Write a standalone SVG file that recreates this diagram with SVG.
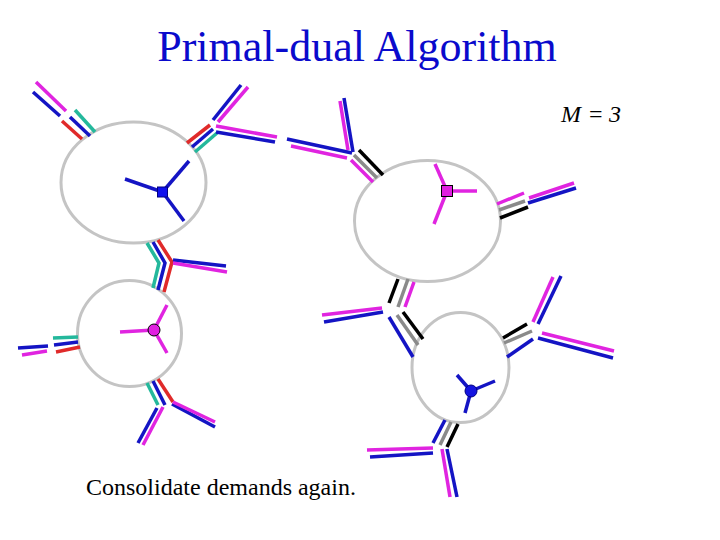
<svg xmlns="http://www.w3.org/2000/svg" width="720" height="540" viewBox="0 0 720 540">
<style>
line, polyline { stroke-width: 3.5; fill: none; }
.b { stroke: #1414c4; }
.m { stroke: #e024e0; }
.r { stroke: #e02a2a; }
.t { stroke: #24b89c; }
.k { stroke: #000000; }
.g { stroke: #8a8a8a; }
.cl { fill: none; stroke: #c4c4c4; stroke-width: 3; }
.title { font-family: "Liberation Serif", "Times New Roman", serif; font-size: 44px; fill: #0a0acc; }
.txt { font-family: "Liberation Serif", "Times New Roman", serif; font-size: 24px; fill: #000; }
</style>
<rect width="720" height="540" fill="#ffffff"/>
<text class="title" x="357" y="61" text-anchor="middle">Primal-dual Algorithm</text>
<text class="txt" x="561" y="122" font-size="22"><tspan font-style="italic">M</tspan><tspan x="589" font-size="24">=</tspan><tspan x="609" font-style="italic">3</tspan></text>
<text class="txt" x="86" y="495">Consolidate demands again.</text>

<g id="node1">
<ellipse class="cl" cx="133.5" cy="182.5" rx="72.5" ry="60.5"/>
<line class="b" x1="162.5" y1="192" x2="125" y2="179"/>
<line class="b" x1="162.5" y1="192" x2="189" y2="161"/>
<line class="b" x1="162.5" y1="192" x2="184" y2="221"/>
<rect x="157.5" y="187" width="10" height="10" fill="#1010ee" stroke="#000080" stroke-width="1"/>
</g>
<g id="node2">
<ellipse class="cl" cx="427.5" cy="221" rx="73" ry="60.5"/>
<line class="m" x1="447" y1="191" x2="435" y2="164"/>
<line class="m" x1="447" y1="191" x2="477" y2="191"/>
<line class="m" x1="447" y1="191" x2="434" y2="224"/>
<rect x="441.5" y="185.5" width="11" height="11" fill="#e020e0" stroke="#000" stroke-width="1"/>
</g>
<g id="node3">
<ellipse class="cl" cx="129.5" cy="333.5" rx="52" ry="53"/>
<line class="m" x1="154" y1="330" x2="120" y2="332"/>
<line class="m" x1="154" y1="330" x2="167" y2="305"/>
<line class="m" x1="154" y1="330" x2="167" y2="353"/>
<circle cx="154" cy="330" r="6" fill="#e020e0" stroke="#000" stroke-width="1"/>
</g>
<g id="node4">
<ellipse class="cl" cx="460.5" cy="367.5" rx="48.5" ry="55"/>
<line class="b" x1="471" y1="391" x2="457" y2="375"/>
<line class="b" x1="471" y1="391" x2="495" y2="381"/>
<line class="b" x1="471" y1="391" x2="465" y2="413"/>
<circle cx="471" cy="391" r="6" fill="#1414e0" stroke="#000080" stroke-width="1"/>
</g>

<g id="connectors">
<!-- A -->
<line class="m" x1="36" y1="82" x2="66" y2="111"/>
<line class="b" x1="33" y1="92" x2="60" y2="116"/>
<line class="r" x1="62" y1="121" x2="82" y2="139"/>
<line class="b" x1="70" y1="117" x2="90" y2="136"/>
<line class="t" x1="75" y1="110" x2="95" y2="132"/>
<!-- B -->
<line class="b" x1="241" y1="85" x2="213" y2="120"/>
<line class="m" x1="248" y1="87" x2="218" y2="122"/>
<line class="r" x1="210" y1="125" x2="187" y2="143"/>
<line class="b" x1="213" y1="129" x2="192" y2="147"/>
<line class="t" x1="217" y1="133" x2="195" y2="152"/>
<line class="m" x1="216" y1="126" x2="277" y2="137"/>
<line class="b" x1="216" y1="132" x2="275" y2="142"/>
<!-- C -->
<line class="b" x1="287" y1="139" x2="352" y2="153"/>
<line class="m" x1="291" y1="146" x2="347" y2="158"/>
<line class="b" x1="344" y1="98" x2="353" y2="152"/>
<line class="m" x1="340" y1="101" x2="348" y2="150"/>
<line class="k" x1="359" y1="150" x2="383" y2="175"/>
<line class="g" x1="354" y1="155" x2="377" y2="178"/>
<line class="m" x1="351" y1="160" x2="373" y2="182"/>
<!-- D -->
<line class="m" x1="497" y1="204" x2="524" y2="193"/>
<line class="g" x1="499" y1="210" x2="525" y2="201"/>
<line class="k" x1="500" y1="218" x2="528" y2="207"/>
<line class="m" x1="529" y1="198" x2="574" y2="183"/>
<line class="b" x1="528" y1="203" x2="576" y2="188"/>
<!-- E -->
<line class="k" x1="398" y1="279" x2="389" y2="303"/>
<line class="g" x1="408" y1="279" x2="398" y2="307"/>
<line class="m" x1="414" y1="282" x2="405" y2="307"/>
<line class="m" x1="382" y1="308" x2="322" y2="315"/>
<line class="b" x1="383" y1="312" x2="324" y2="322"/>
<line class="k" x1="403" y1="312" x2="423" y2="339"/>
<line class="g" x1="397" y1="315" x2="418" y2="345"/>
<line class="b" x1="389" y1="317" x2="413" y2="357"/>
<!-- F -->
<line class="k" x1="503" y1="338" x2="527" y2="324"/>
<line class="g" x1="504" y1="343" x2="532" y2="331"/>
<line class="b" x1="507" y1="357" x2="533" y2="339"/>
<line class="m" x1="533" y1="322" x2="553" y2="277"/>
<line class="b" x1="538" y1="324" x2="561" y2="276"/>
<line class="m" x1="542" y1="333" x2="614" y2="351"/>
<line class="b" x1="538" y1="338" x2="613" y2="358"/>
<!-- G -->
<line class="b" x1="445" y1="420" x2="433" y2="443"/>
<line class="g" x1="451" y1="422" x2="440" y2="445"/>
<line class="k" x1="458" y1="424" x2="447" y2="447"/>
<line class="m" x1="433" y1="448" x2="367" y2="450"/>
<line class="b" x1="433" y1="453" x2="370" y2="457"/>
<line class="m" x1="442" y1="449" x2="450" y2="497"/>
<line class="b" x1="447" y1="449" x2="457" y2="497"/>
<!-- H -->
<polyline class="t" points="147,243 159,263 153,288"/>
<polyline class="b" points="153,242 165,263 158,290"/>
<polyline class="r" points="158,240 172,262 164,292"/>
<line class="b" x1="173" y1="260" x2="226" y2="266"/>
<line class="m" x1="173" y1="263" x2="227" y2="272"/>
<!-- I -->
<line class="t" x1="78" y1="337" x2="53" y2="338"/>
<line class="b" x1="78" y1="342" x2="54" y2="345"/>
<line class="r" x1="80" y1="347" x2="56" y2="352"/>
<line class="b" x1="48" y1="346" x2="18" y2="348"/>
<line class="m" x1="47" y1="351" x2="22" y2="355"/>
<!-- J -->
<line class="t" x1="147" y1="383" x2="158" y2="405"/>
<line class="b" x1="153" y1="381" x2="165" y2="405"/>
<line class="r" x1="158" y1="379" x2="173" y2="402"/>
<line class="b" x1="172" y1="404" x2="215" y2="427"/>
<line class="m" x1="173" y1="402" x2="215" y2="422"/>
<line class="b" x1="157" y1="408" x2="138" y2="443"/>
<line class="m" x1="163" y1="407" x2="143" y2="445"/>
</g>
</svg>
